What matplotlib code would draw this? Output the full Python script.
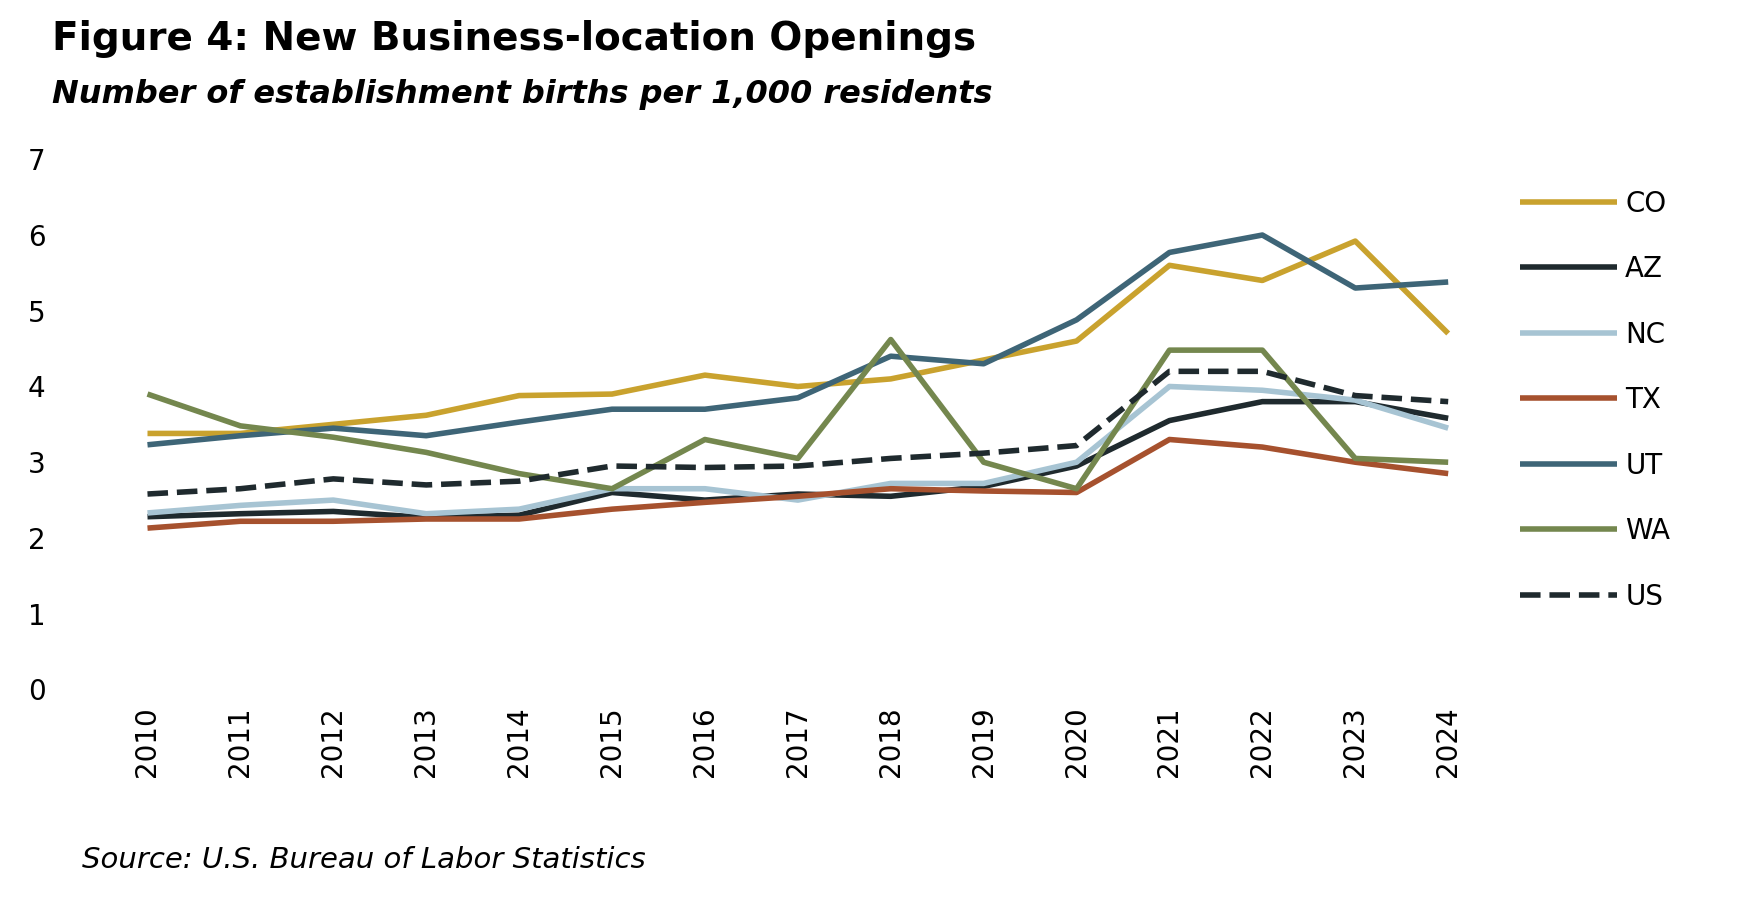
import matplotlib
matplotlib.use("Agg")
import matplotlib.pyplot as plt

years = list(range(2010, 2025))
CO = [3.38, 3.38, 3.5, 3.62, 3.88, 3.9, 4.15, 4.0, 4.1, 4.35, 4.6, 5.6, 5.4, 5.92, 4.7]
AZ = [2.28, 2.32, 2.35, 2.27, 2.3, 2.6, 2.5, 2.58, 2.55, 2.68, 2.95, 3.55, 3.8, 3.8, 3.58]
NC = [2.33, 2.43, 2.5, 2.32, 2.38, 2.65, 2.65, 2.5, 2.72, 2.72, 3.0, 4.0, 3.95, 3.82, 3.45]
TX = [2.13, 2.22, 2.22, 2.25, 2.25, 2.38, 2.47, 2.55, 2.65, 2.62, 2.6, 3.3, 3.2, 3.0, 2.85]
UT = [3.23, 3.35, 3.45, 3.35, 3.53, 3.7, 3.7, 3.85, 4.4, 4.3, 4.88, 5.77, 6.0, 5.3, 5.38]
WA = [3.9, 3.48, 3.33, 3.13, 2.85, 2.65, 3.3, 3.05, 4.62, 3.0, 2.65, 4.48, 4.48, 3.05, 3.0]
US = [2.58, 2.65, 2.78, 2.7, 2.75, 2.95, 2.93, 2.95, 3.05, 3.12, 3.22, 4.2, 4.2, 3.88, 3.8]

series = [("CO", CO, "#C9A22E", "-"), ("AZ", AZ, "#1F2A2E", "-"),
          ("NC", NC, "#A7C4D3", "-"), ("TX", TX, "#A6512E", "-"),
          ("UT", UT, "#3E6577", "-"), ("WA", WA, "#74874E", "-"),
          ("US", US, "#1F2A2E", "--")]

fig = plt.figure(figsize=(17.42, 9), dpi=100)
ax = fig.add_axes([0.058, 0.234, 0.80, 0.589])
for name, vals, c, ls in series:
    ax.plot(years, vals, color=c, lw=4, ls=ls, label=name, solid_capstyle="butt")
ax.set_xlim(2009.5, 2024.5)
ax.set_ylim(0, 7)
ax.set_xticks(years)
ax.set_xticklabels([str(y) for y in years], rotation=90, fontsize=20)
ax.set_yticks(range(8))
ax.tick_params(axis="y", labelsize=20, length=0, pad=40)
ax.tick_params(axis="x", length=0, pad=12)
for s in ax.spines.values():
    s.set_visible(False)
ax.legend(loc="upper left", bbox_to_anchor=(1.0, 0.99), frameon=False, fontsize=20,
          handlelength=3.5, labelspacing=1.35, handletextpad=0.3)
fig.text(0.03, 0.945, "Figure 4: New Business-location Openings", fontsize=28, fontweight="bold")
fig.text(0.03, 0.885, "Number of establishment births per 1,000 residents", fontsize=23,
         fontweight="bold", style="italic")
fig.text(0.047, 0.035, "Source: U.S. Bureau of Labor Statistics", fontsize=21, style="italic")
fig.savefig("out.png", dpi=100)
